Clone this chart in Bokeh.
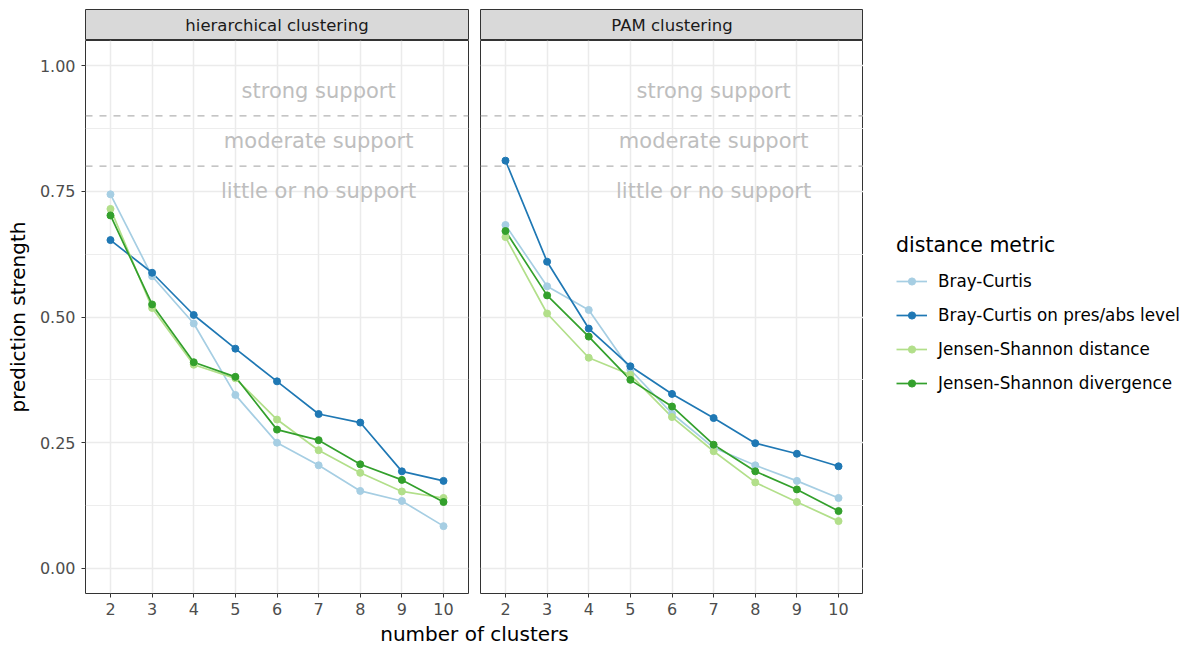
from bokeh.plotting import figure
from bokeh.layouts import row, column
from bokeh.models import (Range1d, FixedTicker, PrintfTickFormatter, Span,
                          Legend, LegendItem)
from bokeh.core.properties import value
from bokeh.embed import file_html
from bokeh.resources import INLINE

FONT = "DejaVu Sans"

# ---------------- data ----------------
clusters = [2, 3, 4, 5, 6, 7, 8, 9, 10]
facets = ["hierarchical clustering", "PAM clustering"]
metrics = ["Bray-Curtis", "Bray-Curtis on pres/abs level",
           "Jensen-Shannon distance", "Jensen-Shannon divergence"]
colors = ["#A6CEE3", "#1F78B4", "#B2DF8A", "#33A02C"]

hier_bray_curtis = [0.744, 0.581, 0.487, 0.345, 0.250, 0.205, 0.154, 0.134, 0.084]
hier_bray_curtis_pa = [0.653, 0.588, 0.504, 0.437, 0.372, 0.307, 0.290, 0.193, 0.174]
hier_js_distance = [0.715, 0.518, 0.405, 0.378, 0.296, 0.235, 0.190, 0.153, 0.140]
hier_js_divergence = [0.702, 0.525, 0.410, 0.381, 0.276, 0.255, 0.207, 0.176, 0.132]

pam_bray_curtis = [0.683, 0.561, 0.514, 0.395, 0.308, 0.240, 0.205, 0.174, 0.140]
pam_bray_curtis_pa = [0.811, 0.610, 0.477, 0.402, 0.347, 0.299, 0.249, 0.228, 0.203]
pam_js_distance = [0.659, 0.507, 0.419, 0.385, 0.301, 0.233, 0.171, 0.132, 0.094]
pam_js_divergence = [0.671, 0.543, 0.461, 0.375, 0.322, 0.246, 0.193, 0.157, 0.114]

thresholds = [0.9, 0.8]
support_labels = ["strong support", "moderate support", "little or no support"]
support_y = [0.95, 0.85, 0.75]
support_x = [7, 7, 7]

y_ticks = [0.0, 0.25, 0.5, 0.75, 1.0]
y_minor = [0.125, 0.375, 0.625, 0.875]

panel_series = [
    [hier_bray_curtis, hier_bray_curtis_pa, hier_js_distance, hier_js_divergence],
    [pam_bray_curtis, pam_bray_curtis_pa, pam_js_distance, pam_js_divergence],
]

# ---------------- layout constants ----------------
FW, FH = 383, 553
LEFT = 85
GAP = 12
BOTTOM = 27
GRID = "#ebebeb"


def make_strip(title, left, right):
    s = figure(frame_width=FW, frame_height=31, x_range=Range1d(0, 1),
               y_range=Range1d(0, 1), x_axis_location=None, y_axis_location=None,
               toolbar_location=None, output_backend="svg",
               min_border_left=left, min_border_right=right,
               min_border_top=9, min_border_bottom=0,
               background_fill_color="#d9d9d9", border_fill_color="white",
               outline_line_color="#333333", outline_line_width=1)
    s.grid.visible = False
    s.text(x=[0.5], y=[0.5], text=[title], text_align="center",
           text_baseline="middle", text_font=value(FONT),
           text_font_size="16.5px", text_color="#1a1a1a")
    return s


def make_panel(series, show_y):
    p = figure(frame_width=FW, frame_height=FH,
               x_range=Range1d(1.4, 10.6), y_range=Range1d(-0.05, 1.05),
               y_axis_location="left" if show_y else None,
               toolbar_location=None, output_backend="svg",
               min_border_left=LEFT if show_y else 0,
               min_border_right=GAP if show_y else 0,
               min_border_top=0, min_border_bottom=BOTTOM,
               background_fill_color="white", border_fill_color="white",
               outline_line_color="#333333", outline_line_width=1)
    # grids
    p.xgrid.ticker = FixedTicker(ticks=clusters)
    p.ygrid.ticker = FixedTicker(ticks=y_ticks, minor_ticks=y_minor)
    p.xgrid.grid_line_color = GRID
    p.ygrid.grid_line_color = GRID
    p.xgrid.grid_line_width = 1.5
    p.ygrid.grid_line_width = 1.5
    p.ygrid.minor_grid_line_color = GRID
    p.ygrid.minor_grid_line_width = 0.9

    # x axis
    p.xaxis.ticker = FixedTicker(ticks=clusters)
    p.xaxis.axis_line_color = None
    p.xaxis.major_tick_line_color = "#333333"
    p.xaxis.major_tick_out = 4
    p.xaxis.major_tick_in = 0
    p.xaxis.minor_tick_out = 0
    p.xaxis.minor_tick_in = 0
    p.xaxis.major_label_standoff = 5
    p.xaxis.major_label_text_font = FONT
    p.xaxis.major_label_text_font_size = "16px"
    p.xaxis.major_label_text_color = "#4d4d4d"

    if show_y:
        p.yaxis.ticker = FixedTicker(ticks=y_ticks, minor_ticks=y_minor)
        p.yaxis.formatter = PrintfTickFormatter(format="%.2f")
        p.yaxis.axis_line_color = None
        p.yaxis.major_tick_line_color = "#333333"
        p.yaxis.major_tick_out = 4
        p.yaxis.major_tick_in = 0
        p.yaxis.minor_tick_out = 0
        p.yaxis.minor_tick_in = 0
        p.yaxis.major_label_standoff = 6
        p.yaxis.major_label_text_font = FONT
        p.yaxis.major_label_text_font_size = "16px"
        p.yaxis.major_label_text_color = "#4d4d4d"
        p.yaxis.axis_label = "prediction strength"
        p.yaxis.axis_label_text_font = FONT
        p.yaxis.axis_label_text_font_size = "20px"
        p.yaxis.axis_label_text_font_style = "normal"
        p.yaxis.axis_label_text_color = "#000000"
        p.yaxis.axis_label_standoff = 7

    # support threshold lines
    for t in thresholds:
        p.add_layout(Span(location=t, dimension="width", line_color="#b3b3b3",
                          line_dash="7 7", line_width=1.3))

    # support texts
    p.text(x=support_x, y=support_y, text=support_labels, text_align="center",
           text_baseline="middle", text_font=value(FONT),
           text_font_size="21px", text_color="#bebebe")

    # data
    for vals, col in zip(series, colors):
        p.line(clusters, vals, line_color=col, line_width=1.7)
    for vals, col in zip(series, colors):
        p.scatter(clusters, vals, size=7, fill_color=col, line_color=col)
    return p


strip1 = make_strip(facets[0], LEFT, GAP)
strip2 = make_strip(facets[1], 0, 0)
p1 = make_panel(panel_series[0], True)
p2 = make_panel(panel_series[1], False)

# legend figure (its renderers hold the data but lie outside its visible range)
LW = 1192 - (LEFT + FW + GAP) - FW
LH = 40 + FH + BOTTOM
lf = figure(width=LW, height=LH, x_range=Range1d(-3, -2), y_range=Range1d(0, 1),
            x_axis_location=None, y_axis_location=None, toolbar_location=None,
            output_backend="svg", min_border=0, min_border_left=0,
            min_border_right=0, min_border_top=0, min_border_bottom=0,
            outline_line_color=None, background_fill_color="white",
            border_fill_color="white")
lf.grid.visible = False
items = []
for name, vals, col in zip(metrics, panel_series[1], colors):
    lr = lf.line(clusters, vals, line_color=col, line_width=1.7)
    sr = lf.scatter(clusters, vals, size=7, fill_color=col, line_color=col)
    items.append(LegendItem(label=name, renderers=[lr, sr]))
legend = Legend(items=items, location=(33, 227), title="distance metric",
                title_text_font=FONT, title_text_font_size="20.5px",
                title_text_font_style="normal", title_text_color="#000000",
                title_standoff=14,
                label_text_font=FONT, label_text_font_size="16.8px",
                label_text_color="#000000",
                glyph_width=31, glyph_height=18, label_height=20,
                label_standoff=11, spacing=14, padding=0, margin=0,
                border_line_color=None, background_fill_alpha=0)
lf.add_layout(legend)

# x-axis title figure
xl = figure(width=1192, height=26, x_range=Range1d(0, 1192), y_range=Range1d(0, 26),
            x_axis_location=None, y_axis_location=None, toolbar_location=None,
            output_backend="svg", min_border=0, min_border_left=0,
            min_border_right=0, min_border_top=0, min_border_bottom=0,
            outline_line_color=None, background_fill_color="white",
            border_fill_color="white")
xl.grid.visible = False
xl.text(x=[LEFT + FW + GAP / 2], y=[13], text=["number of clusters"],
        text_align="center", text_baseline="middle", text_font=value(FONT),
        text_font_size="20px", text_color="#000000")

layout = column(row(column(strip1, p1), column(strip2, p2), lf), xl)

open("out.html", "w").write(file_html(layout, INLINE))
